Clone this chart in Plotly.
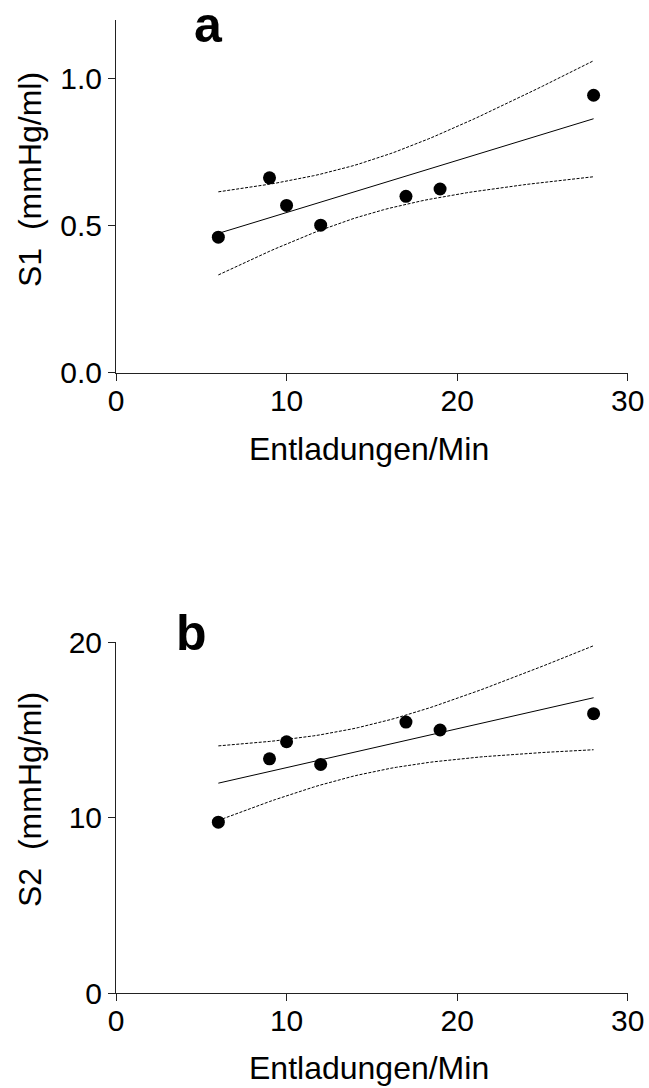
import numpy as np
import plotly.graph_objects as go

# ---- data ----
x_rate = [6, 9, 10, 12, 17, 19, 28]                      # Entladungen/Min
s1_vals = [0.461, 0.663, 0.569, 0.502, 0.600, 0.625, 0.944]  # S1 (mmHg/ml)
s2_vals = [9.74, 13.35, 14.32, 13.03, 15.44, 14.99, 15.92]   # S2 (mmHg/ml)

x_ticks = [0, 10, 20, 30]
s1_ticks = [0.0, 0.5, 1.0]
s2_ticks = [0, 10, 20]
panel_labels = ["a", "b"]
x_title = "Entladungen/Min"
y_titles = ["S1  (mmHg/ml)", "S2  (mmHg/ml)"]

T_975_DF5 = 2.5706  # two-sided 95% t value, n-2 = 5 degrees of freedom

W, H = 649, 1088


def fit_with_ci(x, y):
    x = np.asarray(x, float)
    y = np.asarray(y, float)
    n = len(x)
    slope, icpt = np.polyfit(x, y, 1)
    resid = y - (icpt + slope * x)
    s = np.sqrt(np.sum(resid ** 2) / (n - 2))
    sxx = np.sum((x - x.mean()) ** 2)
    xs = np.linspace(x.min(), x.max(), 60)
    yhat = icpt + slope * xs
    half = T_975_DF5 * s * np.sqrt(1.0 / n + (xs - x.mean()) ** 2 / sxx)
    return xs, yhat, yhat - half, yhat + half


def px_x(p):
    return p / W


def px_y(p):
    return 1 - p / H


FONT = "Liberation Sans, Arial, sans-serif"

fig = go.Figure()

panels = [
    dict(y=s1_vals, ticks=s1_ticks, rng=[0, 1.2], fmt=".1f", top=20, bottom=372.7,
         xa="x", ya="y", label_xy=(208, 25), ytitle_y=180, xtitle_y=449),
    dict(y=s2_vals, ticks=s2_ticks, rng=[0, 20], fmt="d", top=642, bottom=993.3,
         xa="x2", ya="y2", label_xy=(191.5, 633), ytitle_y=800, xtitle_y=1068),
]

x_dom = [px_x(116.0), px_x(627.7)]
annotations = []
for i, p in enumerate(panels):
    xs, yhat, lo, hi = fit_with_ci(x_rate, p["y"])
    for band in (lo, hi):
        fig.add_trace(go.Scatter(x=xs, y=band, mode="lines", xaxis=p["xa"], yaxis=p["ya"],
                                 line=dict(color="black", width=1, dash="3px,1.5px"),
                                 showlegend=False, hoverinfo="skip"))
    fig.add_trace(go.Scatter(x=xs, y=yhat, mode="lines", xaxis=p["xa"], yaxis=p["ya"],
                             line=dict(color="black", width=1), showlegend=False))
    fig.add_trace(go.Scatter(x=x_rate, y=p["y"], mode="markers", xaxis=p["xa"], yaxis=p["ya"],
                             marker=dict(color="black", size=13, symbol="circle"),
                             showlegend=False))

    axis_common = dict(showline=True, linecolor="#222", linewidth=1, ticks="outside",
                       ticklen=7, tickwidth=1, tickcolor="#222", showgrid=False,
                       zeroline=False, tickfont=dict(family=FONT, size=30, color="black"),
                       automargin=False)
    xkey = "xaxis" if i == 0 else "xaxis2"
    ykey = "yaxis" if i == 0 else "yaxis2"
    fig.update_layout(**{
        xkey: dict(domain=x_dom, range=[0, 30], tickvals=x_ticks,
                   anchor=p["ya"], ticklabelstandoff=-6, **axis_common),
        ykey: dict(domain=[px_y(p["bottom"]), px_y(p["top"])], range=p["rng"],
                   tickvals=p["ticks"], tickformat=p["fmt"], anchor=p["xa"],
                   **axis_common),
    })

    lx, ly = p["label_xy"]
    annotations.append(dict(text="<b>%s</b>" % panel_labels[i], x=px_x(lx), y=px_y(ly),
                            xref="paper", yref="paper", showarrow=False,
                            xanchor="center", yanchor="middle",
                            font=dict(family=FONT, size=50, color="black")))
    annotations.append(dict(text=y_titles[i], x=px_x(30), y=px_y(p["ytitle_y"]),
                            xref="paper", yref="paper", showarrow=False, textangle=-90,
                            xanchor="center", yanchor="middle",
                            font=dict(family=FONT, size=32, color="black")))
    annotations.append(dict(text=x_title, x=px_x(369), y=px_y(p["xtitle_y"]),
                            xref="paper", yref="paper", showarrow=False,
                            xanchor="center", yanchor="middle",
                            font=dict(family=FONT, size=32, color="black")))

fig.update_layout(width=W, height=H, margin=dict(l=0, r=0, t=0, b=0),
                  paper_bgcolor="white", plot_bgcolor="white",
                  annotations=annotations, showlegend=False)

fig.write_html("out.html")
